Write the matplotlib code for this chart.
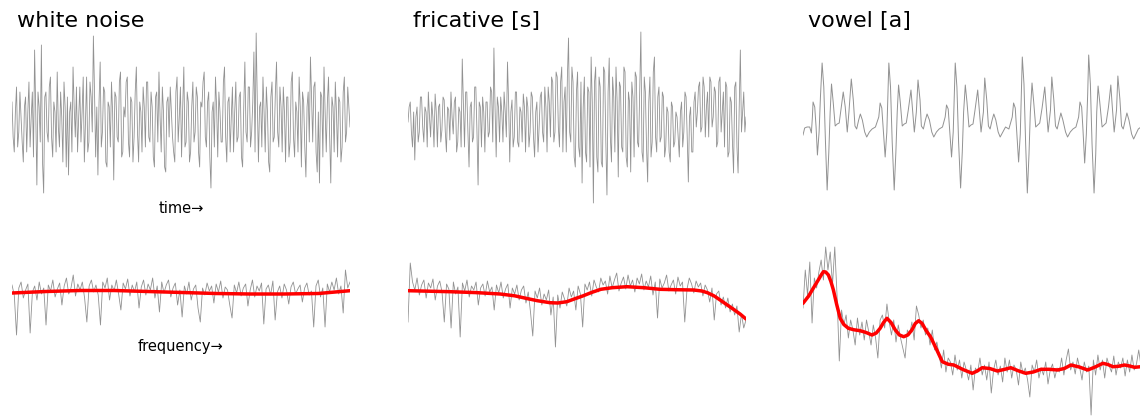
import numpy as np
import matplotlib
matplotlib.use("Agg")
from matplotlib import pyplot as plt

# waveforms (amplitude, arbitrary units)
white_wave = [20, -15, -30, 10, 35, -25, -10, 30, 5, -20, -40, 15, 25, -30, 10, 40, -25, 5, 30, -35,
	72, 10, -63, 30, 15, -20, 77, -40, -71, 25, 30, -10, -20, 35, 45, -15, -35, 20, 10, -30,
	50, -5, -25, 30, 5, -40, 40, 15, -45, 25, -53, 10, 20, -30, 55, 15, -15, 35, -30, 5,
	35, -20, 10, 45, -40, 0, 45, -30, -20, 40, 25, -10, 86, 30, -35, 15, -53, 20, 60, -25,
	-10, 35, 30, -40, -45, 20, 15, -25, 40, 10, -58, 30, 25, -15, -20, 40, 50, -35, -30, 15,
	5, 40, 45, -20, -35, 25, 20, -40, -15, 30, 55, -10, -40, 20, 10, -30, 35, 15, -25, 40,
	40, -15, -20, 30, 15, -35, -45, 25, 30, -20, 50, 5, -30, 35, 10, -45, -50, 20, 25, -15,
	35, 10, -15, -30, -40, 30, 45, -20, 5, 35, -35, 15, 55, -25, -20, 30, 20, -40, -30, 15,
	40, -20, -10, 35, 25, -30, -45, 20, 15, 40, 50, -15, -25, 20, 30, -35, -66, 10, 20, -25,
	45, 15, -35, 30, 10, -20, -20, 40, 55, -15, -40, 20, 25, -30, 5, 35, -30, 10, 40, -20,
	-15, 25, 30, -35, -45, 15, 60, -10, -20, 35, 35, -25, -10, 20, 70, -30, 89, 20, -40, 15,
	20, -25, 45, 10, -30, 35, 10, -40, -50, 25, 40, -20, -15, 30, 60, -10, -25, 35, 15, -30,
	35, 10, -40, 25, 25, -35, -20, 40, 50, -15, -35, 20, 10, -30, 45, 15, -45, 30, 20, -25,
	-55, 15, 30, -20, 65, 25, -20, 35, 40, -30, -50, 10, -61, 30, 25, -35, 55, 10, -30, 20,
	45, -15, -61, 25, 15, -30, 40, 10, -35, 25, 20, -40, -25, 30, 45, -20, -10, 35, 15, -5]

fric_wave = [0, 15, 20, -10, -25, 10, -38, 5, 15, -20, -10, 25, 25, -5, -20, 15, 10, -25, 30, 5,
	-15, 20, 5, -25, 28, 10, -25, 15, 18, -20, -8, 25, 22, -10, -30, 15, 12, -18, 30, 5,
	-12, 20, 25, -30, -20, 15, 10, -25, 63, 20, -25, 30, 30, -10, -45, 15, 20, -20, -15, 35,
	35, -10, -63, 20, 15, -25, 25, 10, -30, 20, 20, -15, -10, 35, 30, -20, 74, 15, -35, 25,
	15, -20, 25, 10, -20, 30, 10, -15, 60, 20, -40, 10, 22, -25, -15, 30, 30, -20, -25, 15,
	10, -20, 28, 15, -30, 25, 15, -25, -10, 30, 25, -15, -35, 10, 20, -30, -5, 25, 30, -10,
	-20, 35, 15, -30, 35, 20, -15, 45, 40, -20, -10, 50, 45, -5, -25, 40, 55, -30, 20, 35,
	-30, 45, 84, -10, -20, 55, 40, -35, -45, 30, 50, -25, -35, 40, -61, 15, 45, -30, -40, 35,
	30, -45, 65, 20, -81, 40, 55, -35, -50, 45, 35, -40, -45, 55, 50, -20, -73, 30, 64, -15,
	-40, 45, 25, -30, 55, 20, -55, 40, 35, -25, -30, 55, 50, -35, -45, 30, 20, -50, 40, 25,
	-35, 50, 45, -20, -25, 35, 90, -30, -40, 45, 30, -25, -60, 20, 45, -35, -20, 50, 65, -15,
	-30, 25, 35, -20, -15, 30, 25, -35, -25, 15, 10, -30, -40, 20, 15, -25, -20, 10, 5, -15,
	-35, 10, 20, -25, -10, 30, 25, -15, -60, 5, 15, -30, -30, 20, 30, -5, 10, 35, 40, -10,
	-5, 45, 35, -15, 15, 30, -15, 45, 40, -5, 5, 35, 30, -25, -20, 40, 45, -10, 10, 30,
	-25, 40, 35, -35, -30, 25, 20, -20, -51, 35, 40, -25, -51, 15, 72, -10, 10, 30, -10, 5]

vowel_t = [0, 5, 12, 20, 25,
	28, 30, 35, 39, 43, 48, 52, 57, 62, 67, 72, 77, 81, 85, 90, 96, 102, 108, 113, 120,
	126, 132, 137, 144, 150, 155, 160, 166, 171, 177, 184, 190, 198, 206, 216,
	226, 230, 235, 239, 245, 250, 253, 256, 261, 266, 272, 277, 281, 285, 290, 296, 302, 308, 314, 322,
	326, 332, 338, 343, 349, 353, 359, 365, 370, 377, 384, 390, 398, 406, 416,
	424, 428, 433, 437, 443, 448, 451, 454, 459, 464, 470, 475, 479, 484, 489, 495, 501, 507, 513, 521,
	525, 531, 538, 542, 548, 553, 558, 564, 569, 575, 582, 588, 596, 604, 614,
	624, 628, 633, 637, 643, 648, 651, 654, 659, 664, 669, 674, 678, 683, 688, 694, 700, 706, 713, 721,
	725, 731, 738, 742, 748, 753, 758, 764, 769, 775, 783, 789, 797, 805, 814,
	822, 826, 831, 835, 840, 845, 849, 852, 857, 862, 868, 873, 876, 880, 885, 892, 898, 904, 911, 918,
	922, 928, 935, 939, 945, 950, 955, 961, 966, 972, 980, 986, 993, 1000, 1008]

vowel_wave = [-13, -6, -5, -5, -11,
	5, 20, 15, -5, -33, -10, 25, 59, 35, -20, -68, -30, 10, 38, 20, -4, -2, -1, 12, 30,
	15, -10, 10, 43, 22, -4, -7, 2, 8, 2, -10, -15, -10, -7, -5,
	5, 19, 14, -6, -35, -10, 25, 59, 35, -20, -68, -30, 10, 37, 20, -4, -2, -1, 12, 32,
	15, -10, 10, 42, 22, -4, -7, 2, 8, 2, -10, -15, -10, -7, -5,
	5, 17, 13, -6, -35, -10, 25, 59, 35, -20, -66, -30, 10, 37, 20, -5, -3, -2, 12, 32,
	15, -10, 10, 44, 22, -4, -7, 2, 8, 2, -10, -15, -10, -5, -7,
	5, 19, 14, -8, -40, -12, 28, 65, 38, -22, -71, -32, 10, 39, 20, -5, -3, -1, 14, 35,
	17, -10, 12, 45, 22, -4, -7, 2, 9, 2, -10, -15, -10, -7, -5,
	5, 20, 15, -8, -41, -12, 28, 67, 38, -22, -71, -32, 10, 36, 20, -5, -3, -1, 15, 37,
	17, -10, 12, 46, 23, -4, -7, 2, 9, 2, -12, -17, -12, -7, -5]

# spectra (level, dB-like units)
white_spec = [15, 5, -35, 12, 18, 2, 10, 16, -33, 8,
	14, 0, 18, 6, 12, -25, 15, 9, 20, 3,
	11, 17, -5, 14, 22, 6, 12, 25, 4, 16,
	10, 18, 2, -22, 14, 20, 8, 15, 5, -25,
	18, 12, 22, 0, 15, 9, 20, 6, -10, 17,
	11, 21, 4, 15, 8, 18, -8, 13, 20, 5,
	16, 10, 22, 2, 14, -12, 18, 7, 15, 20,
	3, 12, 17, -5, 10, -17, 14, 6, 18, 0,
	11, 15, -8, -22, 12, 5, 17, 9, 14, -3,
	16, 8, 19, 2, 13, 10, -5, -18, 15, 7,
	18, 4, 12, 16, -6, 10, 20, 3, 14, 9,
	17, -24, 11, 15, 5, 19, -20, 8, 14, 2,
	16, 10, -4, 13, 18, 6, 11, 15, -2, 12,
	17, 5, 9, -27, 14, 20, 3, 12, -27, 16,
	8, 18, 10, 22, 6, 14, -13, 30, 12, 18]
white_env_f = [0, 15, 30, 45, 60, 75, 90, 105, 120, 135, 149]
white_env = [7, 8.5, 9.5, 9.5, 8.5, 7.5, 6.5, 6, 6, 6.5, 9.3]

fric_spec = [-22, 37, 18, 10, 22, 5, 15, 20, 2, 17,
	12, 21, 0, 14, 19, 8, -22, 16, 11, -28,
	18, 6, 13, -37, 17, 9, 20, 3, 14, 10,
	18, -5, 12, 16, 4, 19, 8, 13, -10, 15,
	7, 18, 2, 11, 16, -8, 12, 6, 15, 0,
	10, 14, -3, 8, -12, -36, 9, 2, 12, -5,
	6, 0, 10, -15, 3, -47, 5, -8, 8, 1,
	-6, 12, 3, 9, -10, 14, 6, -27, 16, 10,
	18, 4, 20, 13, 8, 22, 15, 19, 6, 24,
	12, 20, 27, 9, 17, 23, 11, 25, 14, 20,
	8, 22, 16, 26, 10, 19, 13, 24, 5, 18,
	-18, 21, 12, 17, 25, 9, 15, 20, 6, 23,
	14, 18, -22, 11, 22, 16, 7, 19, 13, 17,
	4, 15, 10, -2, 12, -20, 6, 9, -5, 3,
	-8, 2, -12, -4, -15, -6, -32, -14, -28, -20]
fric_env_f = [0, 18.5, 30, 40.6, 47, 52, 57, 62.6, 66, 70, 73.5, 77, 81, 85, 90, 96.5, 104, 111,
	118, 126, 129.5, 132, 135, 137.6, 140.5, 143.5, 146.5, 149]
fric_env = [9.3, 8.3, 7.4, 6, 4.2, 1.7, -0.7, -2.7, -3, -1.7, 1.2, 4, 7.6, 10.7, 12.3, 13.3, 12.3, 10.7,
	10.3, 10, 9, 7.3, 4, 0, -4.6, -9.3, -14.2, -19]

vowel_spec = [-8, 30, 5, 38, -23, 22, 12, 28, 40, 20,
	53, 30, 48, 15, 53, 5, -61, -10, -25, -15,
	-38, -20, -30, -45, -18, -35, -22, -40, -20, -32,
	-45, -25, -38, -58, -20, -15, -28, -4, -22, -35,
	-20, -42, -25, -38, -48, -58, -30, -35, -22, -40,
	-6, -15, -28, -20, -35, -28, -45, -30, -50, -42,
	-55, -68, -50, -72, -58, -62, -75, -55, -70, -60,
	-78, -62, -70, -80, -65, -90, -68, -72, -58, -75,
	-65, -80, -62, -93, -70, -60, -75, -66, -82, -58,
	-72, -60, -78, -65, -70, -85, -62, -74, -68, -80,
	-97, -65, -72, -60, -78, -68, -75, -62, -84, -70,
	-64, -78, -68, -72, -58, -75, -60, -49, -70, -62,
	-74, -58, -68, -80, -62, -72, -66, -115, -60, -75,
	-55, -70, -60, -78, -58, -66, -72, -56, -75, -62,
	-68, -58, -76, -60, -72, -55, -70, -64, -50, -66]
vowel_env_f = [0, 2.5, 4.5, 7, 8, 9, 10, 11.2, 12.3, 13.4, 14.8, 16.4, 18, 20, 22.5, 25.2, 27.8, 30.4,
	32.3, 34, 35.5, 37, 38.8, 40.7, 42.5, 44.4, 46.2, 48, 49.5, 51, 52.5, 54.4, 56.2, 58.8,
	61.4, 64, 66.5, 70.5, 74.6, 76.8, 79, 82.3, 85.7, 88.6, 91.6, 94.9, 98.2, 101.5, 104.9,
	108.5, 112.2, 115.2, 118.1, 121.8, 125.5, 128.8, 132.2, 134.4, 136.6, 139.1, 141.7, 144, 146.2, 149]
vowel_env = [-3.3, 4, 11.7, 21, 25, 28.3, 28, 25, 18.5, 10, -4, -18.3, -24.5, -28.3, -29.8, -30.7, -32.5, -35,
	-33, -28.3, -22.5, -18.3, -22.5, -30, -35, -36.7, -35, -30, -23.5, -20.7, -23.5, -31, -36.7, -49,
	-61.7, -64.2, -65, -69.5, -73.3, -71, -67.7, -68.5, -71, -69.5, -67.7, -70.8, -73.3, -72, -69.3,
	-69.3, -70, -68.5, -65, -67, -70, -67, -63.3, -64.5, -66.7, -66.3, -65, -66, -67.3, -66.7]

titles = ["white noise", "fricative [s]", "vowel [a]"]

W, H = 1140, 418
fig = plt.figure(figsize=(W / 100, H / 100), dpi=100)

lefts = [12, 408, 803]
width = 338
gray = "#7f7f7f"

def add_ax(left, top, bottom):
	ax = fig.add_axes([left / W, 1 - bottom / H, width / W, (bottom - top) / H])
	ax.axis("off")
	return ax

# top row: waveforms
for k, y in enumerate([white_wave, fric_wave]):
	ax = add_ax(lefts[k], 25, 210)
	ax.plot(np.arange(len(y)), y, color=gray, lw=0.6, alpha=0.85)
	ax.set_xlim(0, len(y) - 1)
	ax.set_ylim(-88, 97)

ax = add_ax(lefts[2], 25, 210)
ax.plot(vowel_t, vowel_wave, color=gray, lw=0.7, alpha=0.85)
ax.set_xlim(0, 1008)
ax.set_ylim(-88, 97)

# bottom row: spectra + smoothed envelope
spectra = [(white_spec, white_env_f, white_env),
	(fric_spec, fric_env_f, fric_env),
	(vowel_spec, vowel_env_f, vowel_env)]
for k, (s, ef, e) in enumerate(spectra):
	ax = add_ax(lefts[k], 235, 418)
	ax.plot(np.arange(len(s)), s, color=gray, lw=0.6, alpha=0.85)
	ax.plot(ef, e, color="red", lw=2.5, solid_capstyle="round", solid_joinstyle="round")
	ax.set_xlim(0, len(s) - 1)
	ax.set_ylim(-118, 65)

for k, t in enumerate(titles):
	fig.text((lefts[k] + 5) / W, 1 - 27 / H, t, fontsize=16, va="baseline", ha="left")

fig.text(181 / W, 1 - 213 / H, "time\u2192", fontsize=10.5, ha="center", va="baseline")
fig.text(181 / W, 1 - 351 / H, "frequency\u2192", fontsize=10.5, ha="center", va="baseline")

fig.savefig("out.png", dpi=100)
